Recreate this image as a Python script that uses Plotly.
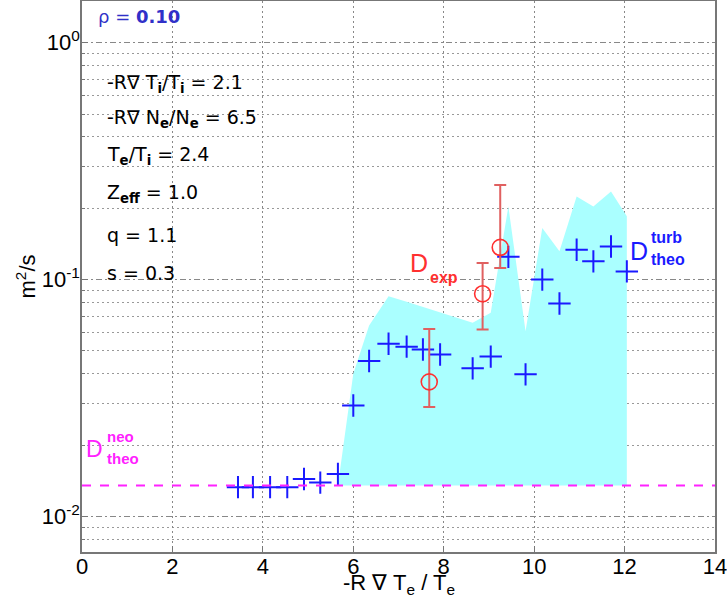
import plotly.graph_objects as go

# Theoretical turbulent diffusivity (crosses)
x_turb = [3.45, 3.78, 4.16, 4.54, 4.91, 5.27, 5.66, 6.00, 6.35, 6.78, 7.18, 7.54, 7.92,
          8.64, 9.04, 9.43, 9.81, 10.18, 10.56, 10.94, 11.31, 11.70, 12.05]
d_turb = [0.0133, 0.0133, 0.0133, 0.0133, 0.0144, 0.0139, 0.0151, 0.0294, 0.0453, 0.0536,
          0.0521, 0.0507, 0.0483, 0.0422, 0.0473, 0.1247, 0.0398, 0.100, 0.0792, 0.1336,
          0.1194, 0.138, 0.1083]

# Upper envelope of the shaded band
x_band = [5.66, 6.00, 6.35, 6.78, 7.18, 7.54, 7.92, 8.64, 9.04, 9.43, 9.81, 10.18,
          10.56, 10.94, 11.31, 11.70, 12.05, 12.05]
d_band = [0.0135, 0.040, 0.064, 0.085, 0.0807, 0.0767, 0.0728, 0.0657, 0.0724, 0.2037,
          0.0605, 0.165, 0.1316, 0.2245, 0.2037, 0.2354, 0.185, 0.0135]

# Experimental values with error bars
x_exp = [7.68, 8.86, 9.25]
d_exp = [0.0370, 0.0871, 0.1367]
d_exp_up = [0.0619, 0.1175, 0.251]
d_exp_lo = [0.0290, 0.0616, 0.112]

# Neoclassical level
d_neo = 0.0135
x_neo = [0, 14]

x_ticks = [0, 2, 4, 6, 8, 10, 12, 14]
y_ticks = [0.01, 0.1, 1.0]
y_ticktext = ["10<sup>-2</sup>", "10<sup>-1</sup>", "10<sup>0</sup>"]
y_minor = [m * 10.0 ** e for e in (-3, -2, -1, 0) for m in range(2, 10)]

err_plus = [u - v for u, v in zip(d_exp_up, d_exp)]
err_minus = [v - l for v, l in zip(d_exp, d_exp_lo)]

FONT = "Liberation Sans"
TFONT = "DejaVu Sans"
fig = go.Figure()

fig.add_trace(go.Scatter(x=x_band, y=d_band, mode="lines", fill="toself",
                         fillcolor="#aaffff", line=dict(width=0, color="#aaffff"),
                         hoverinfo="skip", showlegend=False))
fig.add_trace(go.Scatter(x=x_turb, y=d_turb, mode="markers",
                         marker=dict(symbol="cross-thin", size=16, color="#1a1aff",
                                     line=dict(width=2, color="#1a1aff")),
                         showlegend=False))
fig.add_trace(go.Scatter(x=x_neo, y=[d_neo, d_neo], mode="lines",
                         line=dict(color="#ff22ff", width=2, dash="dash"),
                         showlegend=False))
fig.add_trace(go.Scatter(x=x_exp, y=d_exp, mode="markers",
                         marker=dict(symbol="circle-open", size=16, color="#ff3030",
                                     line=dict(width=1.6, color="#ff3030")),
                         error_y=dict(type="data", symmetric=False, array=err_plus,
                                      arrayminus=err_minus, color="#e06060",
                                      thickness=2, width=6),
                         showlegend=False))

ann = []
def txt(x, y, s, color="black", size=19, xanchor="left", family=TFONT):
    ann.append(dict(x=x, y=y, xref="paper", yref="paper", text=s, showarrow=False,
                    xanchor=xanchor, yanchor="middle",
                    font=dict(family=family, size=size, color=color)))

txt(0.022, 0.971, "ρ = <b>0.10</b>", color="#3030c8", size=18)
txt(0.036, 0.850, "-R∇ T<sub><b>i</b></sub>/T<sub><b>i</b></sub> = 2.1")
txt(0.036, 0.786, "-R∇ N<sub><b>e</b></sub>/N<sub><b>e</b></sub> = 6.5")
txt(0.036, 0.719, "T<sub><b>e</b></sub>/T<sub><b>i</b></sub> = 2.4")
txt(0.036, 0.650, "Z<sub><b>eff</b></sub> = 1.0")
txt(0.036, 0.575, "q = 1.1")
txt(0.036, 0.506, "s = 0.3")

# D_exp
txt(0.515, 0.525, "D", color="#ff3030", size=25, family=FONT)
txt(0.546, 0.498, "<b>exp</b>", color="#ff3030", size=16, family=FONT)
# D_theo^turb
txt(0.862, 0.547, "D", color="#1a1aff", size=25, family=FONT)
txt(0.895, 0.571, "<b>turb</b>", color="#1a1aff", size=16, family=FONT)
txt(0.895, 0.530, "<b>theo</b>", color="#1a1aff", size=16, family=FONT)
# D_theo^neo
txt(0.003, 0.187, "D", color="#ff22ff", size=23, family=FONT)
txt(0.036, 0.209, "<b>neo</b>", color="#ff22ff", size=15, family=FONT)
txt(0.036, 0.170, "<b>theo</b>", color="#ff22ff", size=15, family=FONT)

# x-axis title
txt(0.5, -0.058, "-R ∇ T<sub>e</sub> / T<sub>e</sub>", size=22, xanchor="center", family=FONT)

fig.update_layout(
    width=727, height=610,
    margin=dict(l=82, r=12, t=1, b=58),
    paper_bgcolor="white", plot_bgcolor="white",
    font=dict(family=FONT, size=18, color="black"),
    annotations=ann,
    xaxis=dict(range=[0, 14], tickvals=x_ticks, ticktext=[str(v) for v in x_ticks],
               automargin=False, ticklabeloverflow="allow", ticklabelstandoff=-6,
               showgrid=True, gridcolor="#888888", griddash="2px,3px", gridwidth=1,
               showline=True, linecolor="#777777", linewidth=1.5, mirror=True,
               ticks="inside", ticklen=6, tickcolor="#777777", zeroline=False,
               tickfont=dict(size=22)),
    yaxis=dict(type="log", range=[-2.15, 0.176], tickvals=y_ticks, ticktext=y_ticktext,
               automargin=False, ticklabeloverflow="allow", ticklabelstandoff=-4,
               showgrid=True, gridcolor="#888888", griddash="6px,3px,2px,3px", gridwidth=1,
               minor=dict(tickvals=y_minor, showgrid=True, gridcolor="#999999",
                          griddash="2px,3px", ticks="inside", ticklen=3,
                          tickcolor="#777777"),
               showline=True, linecolor="#777777", linewidth=1.5, mirror=True,
               ticks="inside", ticklen=6, tickcolor="#777777", zeroline=False,
               tickfont=dict(size=22),
               title=dict(text="m<sup>2</sup>/s", font=dict(size=22), standoff=0)),
)

fig.write_html("out.html", config={"displayModeBar": False},
               post_script="document.body.style.margin='0px';")
